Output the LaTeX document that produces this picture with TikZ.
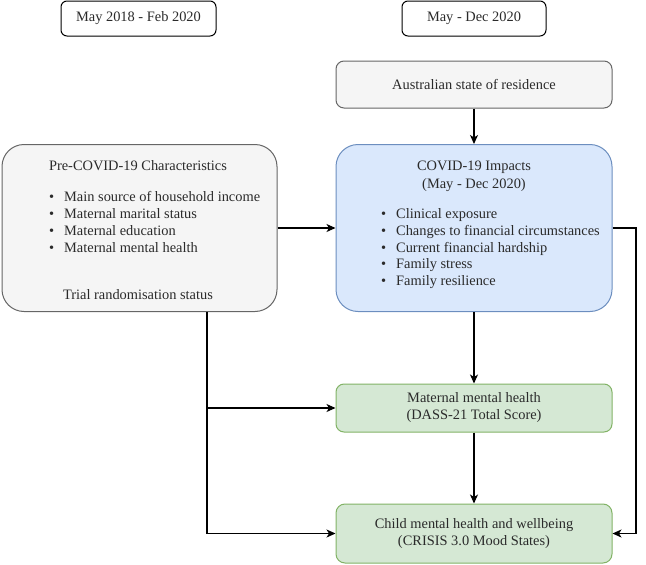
\documentclass[tikz,border=0pt]{standalone}
\usepackage{fontspec}
\setmainfont{Liberation Serif}
\usetikzlibrary{arrows.meta}
\definecolor{greyfill}{HTML}{F5F5F5}
\definecolor{greyline}{HTML}{666666}
\definecolor{bluefill}{HTML}{DAE8FC}
\definecolor{blueline}{HTML}{6C8EBF}
\definecolor{greenfill}{HTML}{D5E8D4}
\definecolor{greenline}{HTML}{82B366}
\definecolor{txt}{HTML}{2A2A2A}
\tikzset{
  every node/.style={font=\fontsize{14.4}{17}\selectfont, text=txt, inner sep=0pt, align=center},
  datebox/.style={draw=black, line width=1pt, rounded corners=6pt, fill=white},
  greybox/.style={draw=greyline, fill=greyfill, line width=1pt},
  bluebox/.style={draw=blueline, fill=bluefill, line width=1pt},
  greenbox/.style={draw=greenline, fill=greenfill, line width=1pt},
  conn/.style={-{Stealth[length=9pt,width=8pt,inset=2.5pt]}, line width=1.2pt, draw=black},
  bul/.style={anchor=base west, align=left},
}
\newcommand{\bl}{\makebox[15pt][l]{\textbullet}}
\begin{document}
\begin{tikzpicture}[x=1pt,y=-1pt]
\useasboundingbox (0,0) rectangle (646,565);
% date boxes
\node[datebox, minimum width=155, minimum height=35] (d1) at (138.5,18.5) {May 2018 - Feb 2020};
\node[datebox, minimum width=144, minimum height=35] (d2) at (474,18.5) {May - Dec 2020};
% main boxes
\node[greybox, rounded corners=8pt, minimum width=276, minimum height=47] (aus) at (474,84.5) {Australian state of residence};
\node[greybox, rounded corners=22pt, minimum width=275, minimum height=167] (pre) at (139.5,228) {};
\node[bluebox, rounded corners=22pt, minimum width=276, minimum height=167] (cov) at (474,228) {};
\node[greenbox, rounded corners=8pt, minimum width=276, minimum height=48] (mat) at (474,408) {Maternal mental health\\(DASS-21 Total Score)};
\node[greenbox, rounded corners=9pt, minimum width=276, minimum height=59] (chi) at (474,533.5) {Child mental health and wellbeing\\(CRISIS 3.0 Mood States)};
% pre-covid text
\node[anchor=base] (pret) at (138,170) {Pre-COVID-19 Characteristics};
\node[bul] (pb1) at (49,201) {\bl Main source of household income};
\node[bul] (pb2) at (49,218) {\bl Maternal marital status};
\node[bul] (pb3) at (49,235) {\bl Maternal education};
\node[bul] (pb4) at (49,252) {\bl Maternal mental health};
\node[anchor=base] (prtr) at (138,299) {Trial randomisation status};
% covid text
\node[anchor=base] (covt1) at (474,170) {COVID-19 Impacts};
\node[anchor=base] (covt2) at (474,188) {(May - Dec 2020)};
\node[bul] (cb1) at (381,218) {\bl Clinical exposure};
\node[bul] (cb2) at (381,235) {\bl Changes to financial circumstances};
\node[bul] (cb3) at (381,252) {\bl Current financial hardship};
\node[bul] (cb4) at (381,268.5) {\bl Family stress};
\node[bul] (cb5) at (381,285) {\bl Family resilience};
% connectors
\coordinate (lx) at (207,0);
\coordinate (rx) at (636,0);
\draw[conn] (aus) -- (cov);
\draw[conn] (pre.east) -- (cov.west);
\draw[conn] (cov) -- (mat);
\draw[conn] (mat) -- (chi);
\draw[conn] (cov.east) -- (cov.east -| rx) -- (chi.east -| rx) -- (chi.east);
\draw[conn] (pre.south -| lx) -- (chi.west -| lx) -- (chi.west);
\draw[conn] (mat.west -| lx) -- (mat.west);
\end{tikzpicture}
\end{document}
